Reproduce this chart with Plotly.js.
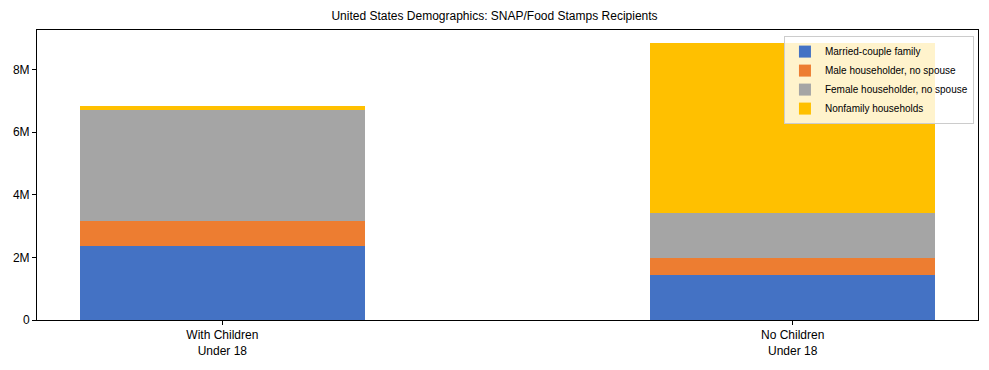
<!DOCTYPE html>
<html>
<head>
<meta charset="utf-8">
<script src="https://cdn.plot.ly/plotly-3.0.1.min.js"></script>
<style>html,body{margin:0;padding:0;background:#fff}#chart{width:989px;height:370px}</style>
</head>
<body>
<div id="chart"></div>
<script>
const categories = ["With Children<br>Under 18", "No Children<br>Under 18"];
const seriesNames = ["Married-couple family", "Male householder, no spouse", "Female householder, no spouse", "Nonfamily households"];
const marriedCouple = [2370000, 1440000];
const maleHouseholder = [800000, 540000];
const femaleHouseholder = [3550000, 1440000];
const nonfamily = [110000, 5430000];
const colors = ["#4472C4", "#ED7D31", "#A5A5A5", "#FFC000"];
const yTickVals = [0, 2000000, 4000000, 6000000, 8000000];
const yTickText = ["0", "2M", "4M", "6M", "8M"];

const values = [marriedCouple, maleHouseholder, femaleHouseholder, nonfamily];
const traces = values.map((v, i) => ({
  type: "bar",
  x: categories,
  y: v,
  name: seriesNames[i],
  width: 0.5,
  marker: {color: colors[i], line: {width: 0}},
  hoverinfo: "none"
}));

const font = "Liberation Sans Narrow, Liberation Sans, Arial, sans-serif";
const layout = {
  width: 989, height: 370,
  barmode: "stack",
  margin: {l: 37, r: 11, t: 30, b: 50, pad: 0},
  paper_bgcolor: "#fff", plot_bgcolor: "#fff",
  font: {family: font, size: 12, color: "#000"},
  title: {text: "United States Demographics: SNAP/Food Stamps Recipients", font: {family: font, size: 12, color: "#000"}, x: 0.5, xanchor: "center", y: 1 - 16/370, yanchor: "middle"},
  xaxis: {
    type: "category", range: [-0.325, 1.325],
    showline: true, linecolor: "#000", linewidth: 1, mirror: true,
    ticks: "outside", ticklen: 4, tickcolor: "#000",
    showgrid: false, zeroline: false,
    tickfont: {family: font, size: 12, color: "#000"}
  },
  yaxis: {
    range: [0, 9260000],
    tickvals: yTickVals, ticktext: yTickText,
    showline: true, linecolor: "#000", linewidth: 1, mirror: true,
    ticks: "outside", ticklen: 4, tickcolor: "#000",
    showgrid: false, zeroline: false,
    tickfont: {family: font, size: 12, color: "#000"}
  },
  legend: {
    x: 0.9957, y: 0.979, xanchor: "right", yanchor: "top",
    bgcolor: "rgba(255,255,255,0.8)", bordercolor: "#cccccc", borderwidth: 1,
    font: {family: font, size: 10, color: "#000"},
    traceorder: "normal", tracegroupgap: 0
  },
  showlegend: true
};

Plotly.newPlot("chart", traces, layout, {displayModeBar: false, staticPlot: true});
</script>
</body>
</html>
